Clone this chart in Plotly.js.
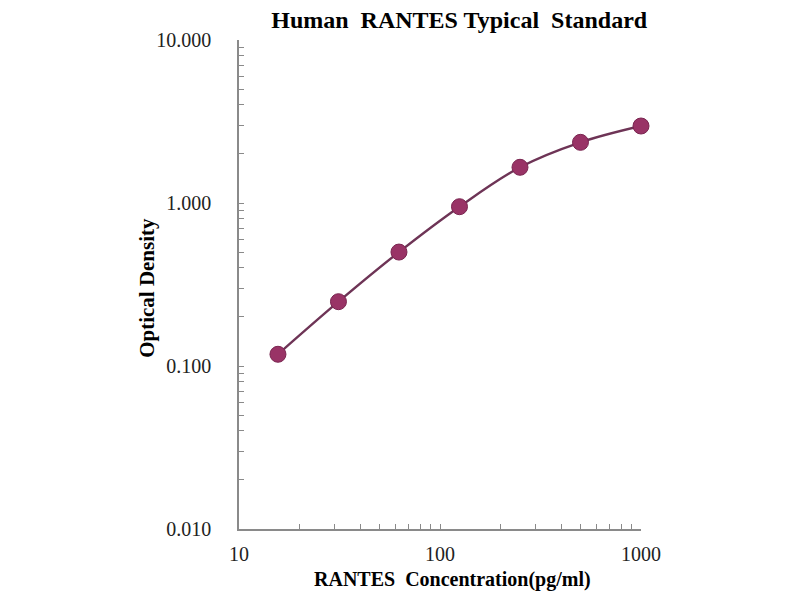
<!DOCTYPE html>
<html lang="en">
    <head>
        <meta charset="UTF-8" />
        <script src="https://cdn.plot.ly/plotly-3.0.1.min.js"></script>
        <title>Human RANTES Typical Standard</title>
        <style>
            body { margin: 0; background: #fff; }
            #graph { width: 800px; height: 600px; }
        </style>
    </head>
    <body>
        <div id="graph"></div>
    </body>
    <script>
        // Standard curve values
        const concentration = [15.625, 31.25, 62.5, 125, 250, 500, 1000];
        const opticalDensity = [0.118, 0.248, 0.50, 0.949, 1.656, 2.356, 2.967];

        const serif = "Liberation Serif, Times New Roman, serif";
        const axisGray = "#8a8a8a";

        const data = [
            {
                x: concentration,
                y: opticalDensity,
                mode: "lines+markers",
                type: "scatter",
                cliponaxis: false,
                line: { color: "#6e3456", width: 2.4, shape: "spline" },
                marker: { color: "#993366", size: 16, line: { color: "#7a2550", width: 1 } },
                hoverinfo: "x+y",
            },
        ];

        const layout = {
            width: 800,
            height: 600,
            margin: { l: 239, r: 159, t: 40, b: 71 },
            paper_bgcolor: "#fff",
            plot_bgcolor: "#fff",
            showlegend: false,
            title: {
                text: "<b>Human  RANTES Typical  Standard</b>",
                font: { family: serif, size: 24, color: "#000" },
                x: 0.574,
                xanchor: "center",
                y: 0.968,
                yanchor: "middle",
            },
            xaxis: {
                type: "log",
                range: [1, 3],
                dtick: 1,
                showgrid: false,
                zeroline: false,
                showline: true,
                linecolor: axisGray,
                linewidth: 1.5,
                ticks: "inside",
                ticklen: 5,
                tickcolor: axisGray,
                minor: { ticks: "inside", ticklen: 5, tickcolor: axisGray, dtick: "D1", showgrid: false },
                tickfont: { family: serif, size: 20, color: "#222" },
                ticklabelstandoff: 6,
            },
            yaxis: {
                type: "log",
                range: [-2, 1],
                dtick: 1,
                tickformat: ".3f",
                showgrid: false,
                zeroline: false,
                showline: true,
                linecolor: axisGray,
                linewidth: 1.5,
                ticks: "inside",
                ticklen: 5,
                tickcolor: axisGray,
                minor: { ticks: "inside", ticklen: 5, tickcolor: axisGray, dtick: "D1", showgrid: false },
                tickfont: { family: serif, size: 20, color: "#222" },
                ticklabelstandoff: 22,
            },
            // axis titles placed as annotations to sit where the original has them
            annotations: [
                {
                    text: "<b>RANTES  Concentration(pg/ml)</b>",
                    font: { family: serif, size: 20, color: "#000" },
                    xref: "paper",
                    yref: "paper",
                    x: 0.532,
                    y: -0.104,
                    xanchor: "center",
                    yanchor: "middle",
                    showarrow: false,
                },
                {
                    text: "<b>Optical Density</b>",
                    font: { family: serif, size: 21, color: "#000" },
                    xref: "paper",
                    yref: "paper",
                    x: -0.229,
                    y: 0.493,
                    xanchor: "center",
                    yanchor: "middle",
                    textangle: -90,
                    showarrow: false,
                },
            ],
        };

        Plotly.newPlot("graph", data, layout, { displayModeBar: false });
    </script>
</html>
